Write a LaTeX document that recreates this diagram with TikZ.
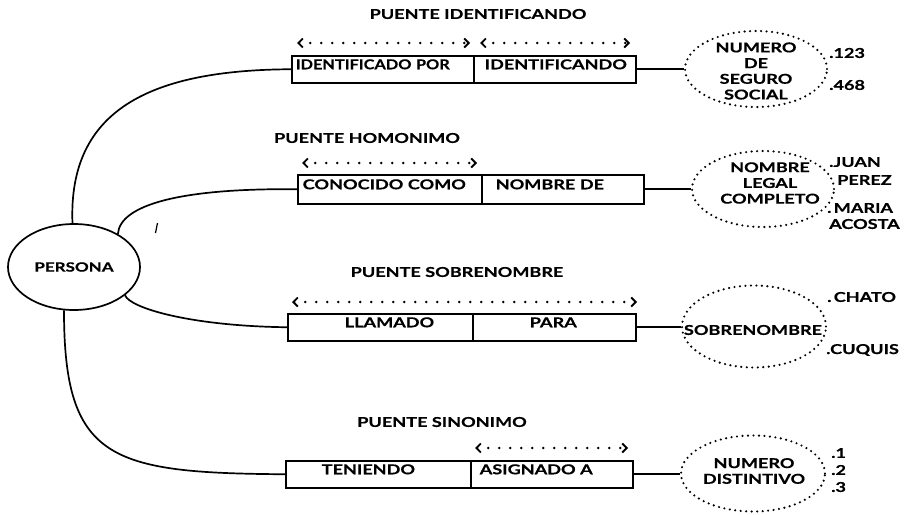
\documentclass[tikz,border=0pt]{standalone}
\usepackage{fontspec}
\setmainfont{Lato}[FakeStretch=1.33, FakeBold=0.4]
\newfontfamily\narrowfont{Lato}[FakeStretch=1.2, FakeBold=0.4]
\usetikzlibrary{shapes.geometric,arrows.meta}
\tikzset{
  lk/.style={draw, line width=1.7pt},
  bx/.style={draw, rectangle, line width=1.5pt, anchor=north west, inner xsep=0pt, inner ysep=0pt,
    text height=13.5pt, text depth=13.5pt, align=left, text width=#1},
  ell/.style={draw, ellipse, line width=2.4pt, dash pattern=on 0pt off 5.5pt, line cap=round, inner sep=0pt},
  etext/.style={align=center, inner sep=0pt},
  dimarrow/.style={line width=2.8pt, line cap=round, dash pattern=on 0pt off 11pt,
    {Straight Barb[length=4.5pt,width=9pt,line width=1.8pt]}-{Straight Barb[length=4.5pt,width=9pt,line width=1.8pt]}},
  ttl/.style={inner sep=0pt},
  val/.style={inner sep=0pt, anchor=west}
}
\begin{document}
\begin{tikzpicture}[x=1pt,y=-1pt, font=\fontsize{13.6}{15.7}\selectfont\bfseries]
\useasboundingbox[fill=white] (0,0) rectangle (907,514);

% central node
\node[draw, ellipse, line width=1.7pt, minimum width=132, minimum height=86, inner sep=0pt] (persona) at (74,267) {};
\node[inner sep=0pt, font=\fontsize{12.8}{15}\selectfont\narrowfont\bfseries\addfontfeatures{FakeStretch=1.33}] (personat) at (persona.center) {PERSONA};

% ---------- row 1
\node[ttl] (t1) at (478,14) {PUENTE IDENTIFICANDO};
\coordinate (a1s) at (297,43); \coordinate (a1e) at (470,43);
\coordinate (a2s) at (480,43); \coordinate (a2e) at (630,43);
\draw[dimarrow] (a1s) -- (a1e);
\draw[dimarrow] (a2s) -- (a2e);
\node[bx=182] (r1a) at (291,55) {\hspace*{4pt}{\narrowfont IDENTIFICADO POR}};
\node[bx=162] (r1b) at (473,55) {\hspace*{11pt}IDENTIFICANDO};
\node[ell, minimum width=142, minimum height=76] (e1) at (756,69) {};
\node[etext] (e1t) at (756,71) {NUMERO\\DE\\SEGURO\\SOCIAL};
\draw[lk] (r1b.east) -- (r1b.east -| e1.west);
\node[val] (v11) at (829,53) {.123};
\node[val] (v12) at (829,85) {.468};

% ---------- row 2
\node[ttl] (t2) at (367,138) {PUENTE HOMONIMO};
\coordinate (b1s) at (302,163); \coordinate (b1e) at (477,163);
\draw[dimarrow] (b1s) -- (b1e);
\node[bx=184, text height=14.5pt, text depth=14.5pt] (r2a) at (297,174) {\hspace*{5pt}CONOCIDO COMO};
\node[bx=162, text height=14.5pt, text depth=14.5pt] (r2b) at (481,174) {\hspace*{14pt}NOMBRE DE};
\node[ell, minimum width=142, minimum height=76] (e2) at (763,189) {};
\node[etext] (e2t) at (770,183) {NOMBRE\\LEGAL\\COMPLETO};
\draw[lk] (r2b.east) -- (r2b.east -| e2.west);
\node[val] (v21) at (829,162) {.JUAN};
\node[val] (v22) at (837,180) {PEREZ};
\node[val] (v23) at (827,208) {.\,MARIA};
\node[val] (v24) at (829,224) {ACOSTA};

% ---------- row 3
\node[ttl] (t3) at (457,272) {PUENTE SOBRENOMBRE};
\coordinate (c1s) at (292,302); \coordinate (c1e) at (637,302);
\draw[dimarrow] (c1s) -- (c1e);
\node[bx=185] (r3a) at (287,313) {\hspace*{57pt}LLAMADO};
\node[bx=163] (r3b) at (472,313) {\hspace*{57pt}PARA};
\node[ell, minimum width=144, minimum height=82] (e3) at (754,326.5) {};
\node[etext] (e3t) at (753,330) {SOBRENOMBRE};
\draw[lk] (r3b.east) -- (r3b.east -| e3.west);
\node[val] (v31) at (827,297) {.\,CHATO};
\node[val] (v32) at (826,350) {.CUQUIS};

% ---------- row 4
\node[ttl] (t4) at (442,422) {PUENTE SINONIMO};
\coordinate (d1s) at (475,448); \coordinate (d1e) at (628,448);
\draw[dimarrow] (d1s) -- (d1e);
\node[bx=185] (r4a) at (285,460) {\hspace*{36pt}TENIENDO};
\node[bx=162] (r4b) at (470,460) {\hspace*{9pt}ASIGNADO A};
\node[ell, minimum width=144, minimum height=76] (e4) at (753,473.5) {};
\node[etext] (e4t) at (754,471) {NUMERO\\DISTINTIVO};
\draw[lk] (r4b.east) -- (r4b.east -| e4.west);
\node[val] (v41) at (831,453) {.1};
\node[val] (v42) at (831,470) {.2};
\node[val] (v43) at (831,487) {.3};

% ---------- connectors from PERSONA
\draw[lk] (persona.92) .. controls (68,110) and (150,70) .. (r1a.west);
\draw[lk] (persona.37) .. controls (120,205) and (180,188) .. (r2a.west);
\draw[lk] (persona.-29) .. controls (130,308) and (190,326) .. (r3a.west);
\draw[lk] (persona.-103) .. controls (64,460) and (110,473) .. (r4a.west);

% stray mark
\draw[line width=1.2pt] (157.5,223) -- (155.5,233);
\end{tikzpicture}
\end{document}
